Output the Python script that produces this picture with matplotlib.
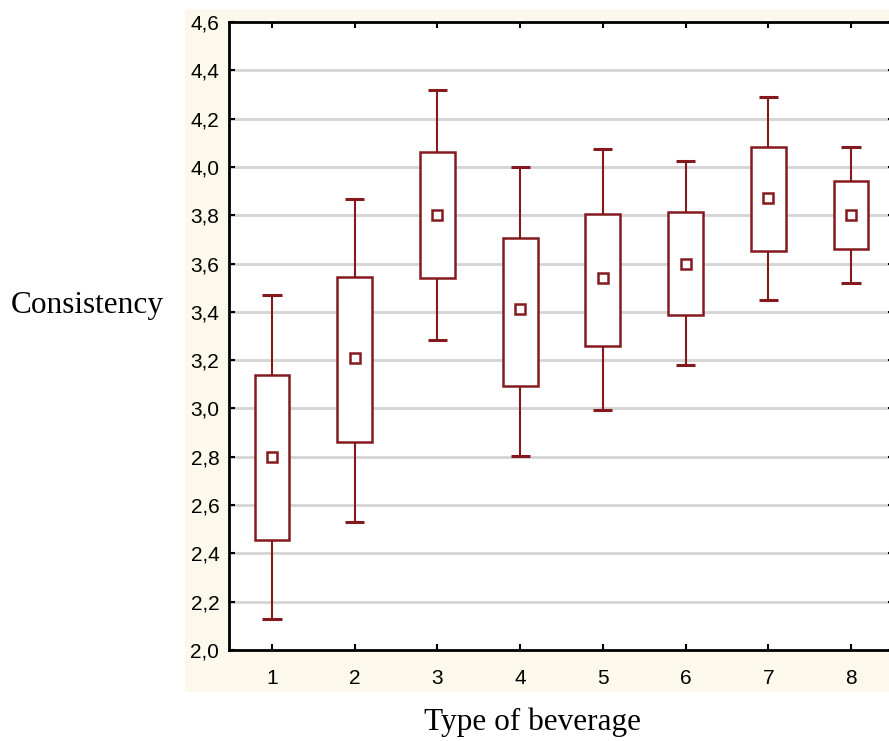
import matplotlib
matplotlib.use("Agg")
import matplotlib.pyplot as plt
from matplotlib.patches import Rectangle

categories = [1, 2, 3, 4, 5, 6, 7, 8]
means = [2.80, 3.21, 3.80, 3.41, 3.54, 3.60, 3.87, 3.80]
box_low = [2.455, 2.86, 3.54, 3.093, 3.26, 3.387, 3.652, 3.66]
box_high = [3.14, 3.545, 4.062, 3.706, 3.805, 3.814, 4.083, 3.942]
whisk_low = [2.13, 2.53, 3.284, 2.803, 2.994, 3.18, 3.449, 3.52]
whisk_high = [3.47, 3.867, 4.319, 4.0, 4.075, 4.025, 4.29, 4.083]
yticks = [2.0, 2.2, 2.4, 2.6, 2.8, 3.0, 3.2, 3.4, 3.6, 3.8, 4.0, 4.2, 4.4, 4.6]
ytick_labels = [f"{v:.1f}".replace(".", ",") for v in yticks]

RED = "#841a1d"
W, H = 889, 741
fig = plt.figure(figsize=(W / 100, H / 100), dpi=100)
fig.patch.set_facecolor("white")

# beige panel behind axes & tick labels
fig.patches.append(Rectangle((185 / W, 1 - 692 / H), 1 - 185 / W, (692 - 9) / H,
                             transform=fig.transFigure, facecolor="#fdf8ec",
                             edgecolor="none", zorder=-10))

ax = fig.add_axes([229 / W, 1 - 650 / H, (894 - 229) / W, (650 - 22) / H])
ax.set_zorder(5)
ax.set_facecolor("white")
ax.set_xlim(0.48, 8.52)
ax.set_ylim(2.0, 4.6)

for y in yticks[1:-1]:
    ax.axhline(y, color="#d4d4d4", lw=2, zorder=1)

bw = 0.42
cw = 0.23
for x, m, bl, bh, wl, wh in zip(categories, means, box_low, box_high, whisk_low, whisk_high):
    ax.add_patch(Rectangle((x - bw / 2, bl), bw, bh - bl, facecolor="white",
                           edgecolor=RED, lw=1.8, zorder=3))
    ax.plot([x, x], [bh, wh], color=RED, lw=1.5, zorder=2)
    ax.plot([x, x], [wl, bl], color=RED, lw=1.5, zorder=2)
    ax.plot([x - cw / 2, x + cw / 2], [wh, wh], color=RED, lw=2.2, zorder=3, solid_capstyle="butt")
    ax.plot([x - cw / 2, x + cw / 2], [wl, wl], color=RED, lw=2.2, zorder=3, solid_capstyle="butt")
    ax.plot([x], [m], marker="s", ms=7.5, mfc="white", mec=RED, mew=1.8, zorder=4)

ax.set_xticks(categories)
ax.set_xticklabels([str(c) for c in categories])
ax.set_yticks(yticks)
ax.set_yticklabels(ytick_labels)
ax.tick_params(direction="in", length=4, width=1.5, top=True, right=True,
               labelsize=15, colors="black")
ax.tick_params(axis="x", pad=14)
ax.tick_params(axis="y", pad=7)
for lab in ax.get_xticklabels() + ax.get_yticklabels():
    lab.set_fontfamily("Liberation Sans")
for s in ax.spines.values():
    s.set_linewidth(2)
    s.set_color("black")

fig.text(87 / W, 1 - 305 / H, "Consistency", family="Liberation Serif",
         fontsize=22.5, ha="center", va="center")
fig.text(533 / W, 1 - 722 / H, "Type of beverage", family="Liberation Serif",
         fontsize=22.5, ha="center", va="center")

fig.savefig("out.png", dpi=100)
